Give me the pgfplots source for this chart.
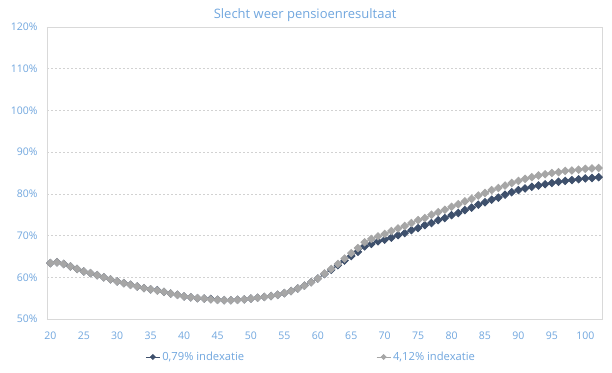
\documentclass[border=0pt]{standalone}
\usepackage{pgfplots}
\pgfplotsset{compat=1.18}
\usepackage{fontspec}
\setmainfont{Open Sans}
\definecolor{txtblue}{RGB}{112,166,222}
\definecolor{darkser}{RGB}{62,80,108}
\definecolor{lightser}{RGB}{166,166,166}
\definecolor{gridc}{RGB}{210,210,210}
\definecolor{axc}{RGB}{217,217,217}
\begin{document}
\begin{tikzpicture}[x=1pt,y=1pt]
\useasboundingbox (0,0) rectangle (612,372);
\begin{axis}[
  at={(47pt,53pt)}, anchor=south west,
  scale only axis, width=555pt, height=292pt,
  xmin=19.5, xmax=102.5, ymin=50, ymax=120,
  clip=false,
  axis line style={draw=axc, line width=0.8pt},
  xtick={20,25,...,100},
  major x tick style={draw=none},
  extra x ticks={19.5,24.5,...,99.5},
  extra x tick labels={},
  extra x tick style={major tick length=4pt, tick align=inside, tick style={draw=axc, line width=0.8pt}, grid=none},
  ytick={50,60,...,120},
  ytick style={draw=none},
  ymajorgrids,
  grid style={draw=gridc, dash pattern=on 2pt off 2pt, line width=0.6pt},
  /pgf/number format/assume math mode=true,
  yticklabel={\pgfmathprintnumber{\tick}\%},
  ticklabel style={font=\fontsize{10.5}{12}\selectfont, text=txtblue},
  xticklabel style={yshift=-9pt},
  yticklabel style={xshift=-6pt},
  title={Slecht weer pensioenresultaat},
  title style={at={(0.465,1)}, anchor=south, yshift=-4pt, font=\fontsize{13}{15}\selectfont, text=txtblue},
  legend columns=2,
  legend style={at={(0.476,-0.13)}, anchor=center, draw=none, fill=none,
    font=\fontsize{11.2}{13}\selectfont, text=txtblue,
    /tikz/every even column/.append style={column sep=130pt},
    cells={anchor=west}},
  legend image code/.code={\draw[#1, mark size=1.7pt, mark repeat=2, mark phase=2] plot coordinates {(0pt,0pt) (7pt,0pt) (14pt,0pt)};},
  every axis plot/.append style={line width=0.9pt, mark=square*, mark size=2.6pt},
]
\addplot[color=darkser, mark options={fill=darkser, draw=darkser, rotate=45, solid}] coordinates {
(20,63.4)(21,63.6)(22,63.2)(23,62.6)(24,62.0)(25,61.4)(26,61.0)(27,60.5)(28,60.0)(29,59.5)
(30,59.0)(31,58.6)(32,58.2)(33,57.8)(34,57.4)(35,57.1)(36,56.9)(37,56.5)(38,56.1)(39,55.8)
(40,55.4)(41,55.2)(42,55.0)(43,54.9)(44,54.8)(45,54.6)(46,54.5)(47,54.5)(48,54.6)(49,54.7)
(50,54.9)(51,55.1)(52,55.3)(53,55.5)(54,55.8)(55,56.2)(56,56.7)(57,57.3)(58,58.0)(59,58.8)
(60,59.7)(61,60.8)(62,61.8)(63,62.9)(64,64.0)(65,65.1)(66,66.1)(67,67.4)(68,68.0)(69,68.6)
(70,69.0)(71,69.5)(72,70.1)(73,70.6)(74,71.3)(75,71.8)(76,72.5)(77,73.0)(78,73.7)(79,74.2)
(80,74.9)(81,75.4)(82,76.1)(83,76.7)(84,77.4)(85,78.0)(86,78.6)(87,79.1)(88,79.8)(89,80.4)
(90,80.9)(91,81.3)(92,81.7)(93,82.0)(94,82.3)(95,82.6)(96,82.9)(97,83.1)(98,83.3)(99,83.5)
(100,83.7)(101,83.8)(102,84.0)
};
\addlegendentry{0,79\% indexatie}
\addplot[color=lightser, mark options={fill=lightser, draw=lightser, rotate=45, solid}] coordinates {
(20,63.4)(21,63.6)(22,63.2)(23,62.6)(24,62.0)(25,61.4)(26,61.0)(27,60.5)(28,60.0)(29,59.5)
(30,59.0)(31,58.6)(32,58.2)(33,57.8)(34,57.4)(35,57.1)(36,56.8)(37,56.5)(38,56.1)(39,55.8)
(40,55.4)(41,55.2)(42,55.0)(43,54.9)(44,54.7)(45,54.6)(46,54.5)(47,54.5)(48,54.6)(49,54.7)
(50,54.9)(51,55.1)(52,55.3)(53,55.5)(54,55.8)(55,56.2)(56,56.7)(57,57.3)(58,58.0)(59,58.8)
(60,59.7)(61,60.9)(62,62.0)(63,63.2)(64,64.5)(65,65.8)(66,67.0)(67,68.4)(68,69.2)(69,69.8)
(70,70.4)(71,71.1)(72,71.7)(73,72.3)(74,73.0)(75,73.7)(76,74.2)(77,75.0)(78,75.6)(79,76.2)
(80,76.9)(81,77.5)(82,78.2)(83,78.8)(84,79.6)(85,80.2)(86,80.9)(87,81.4)(88,82.0)(89,82.6)
(90,83.1)(91,83.6)(92,84.0)(93,84.4)(94,84.7)(95,85.0)(96,85.2)(97,85.5)(98,85.6)(99,85.8)
(100,86.0)(101,86.1)(102,86.2)
};
\addlegendentry{4,12\% indexatie}
\end{axis}
\end{tikzpicture}
\end{document}
